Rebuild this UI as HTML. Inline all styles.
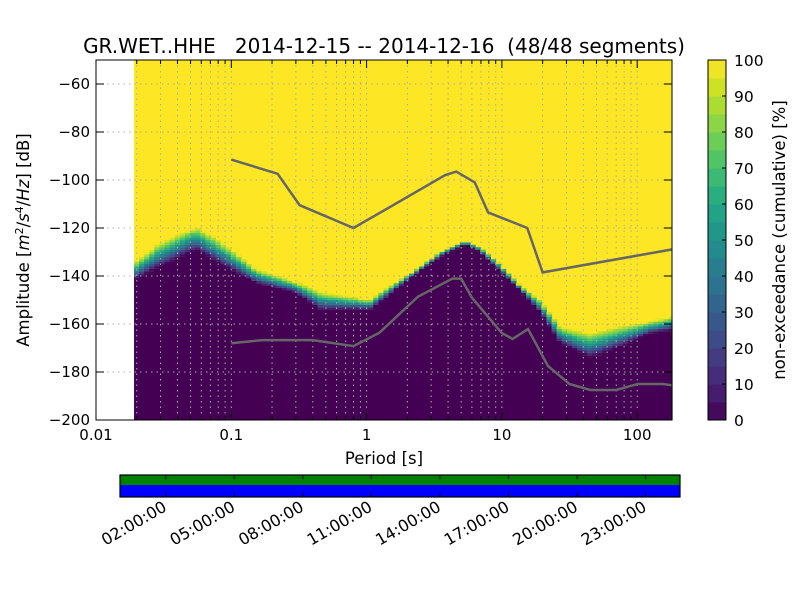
<!DOCTYPE html>
<html><head><meta charset="utf-8"><style>
body{margin:0;background:#fff;width:800px;height:600px;overflow:hidden}
svg text{font-family:"DejaVu Sans","Liberation Sans",sans-serif;fill:#000;white-space:pre}
</style></head><body>
<svg id="chart" width="800" height="600" viewBox="0 0 800 600" xmlns="http://www.w3.org/2000/svg">
<text x="384" y="53" font-size="20" text-anchor="middle" xml:space="preserve">GR.WET..HHE   2014-12-15 -- 2014-12-16  (48/48 segments)</text>
<g id="heat"></g>
<g id="grid"></g>
<g id="lines"></g>
<rect x="96" y="60" width="576" height="360" fill="none" stroke="#000" stroke-width="1"/>
<g id="axes"></g>
<text x="384" y="464" font-size="16.5" text-anchor="middle">Period [s]</text>
<text transform="translate(29,240) rotate(-90)" font-size="16.5" text-anchor="middle">Amplitude [<tspan font-style="italic">m</tspan><tspan font-size="11" dy="-6">2</tspan><tspan dy="6">/</tspan><tspan font-style="italic">s</tspan><tspan font-size="11" dy="-6">4</tspan><tspan dy="6">/</tspan><tspan font-style="italic">Hz</tspan>] [dB]</text>
<g id="cbar"></g>
<text transform="translate(785,240) rotate(-90)" font-size="16.5" text-anchor="middle">non-exceedance (cumulative) [%]</text>
<g id="cov"></g>
</svg>
<script>
const periods=[0.0191,0.0297,0.0548,0.0771,0.152,0.301,0.453,1.06,1.32,2.09,3.49,5.34,6.89,9.69,13.6,19.1,26.9,44.8,74.6,124,180];
const loDb=[-141.7,-136,-129,-134,-143,-147,-154,-154,-150,-141,-132,-127,-130,-138,-146,-155,-168,-174,-169.5,-164,-162.5];
const hiDb=[-134.6,-126,-119.5,-124,-137,-142.5,-146.5,-150,-146,-139,-130,-125,-128,-135,-144,-150,-161,-164,-161,-159,-157];
const nhnmP=[0.1,0.22,0.32,0.8,3.8,4.6,6.3,7.9,15.4,20,354.8];
const nhnmDb=[-91.5,-97.4,-110.5,-120,-98,-96.5,-101,-113.5,-120,-138.5,-126];
const nlnmP=[0.1,0.17,0.4,0.8,1.24,2.4,4.3,5,6,10,12,15.6,21.9,31.6,45,70,101,154,328];
const nlnmDb=[-168,-166.7,-166.7,-169.2,-163.7,-148.6,-141.1,-141.1,-149,-163.8,-166.2,-162.1,-177.5,-185,-187.5,-187.5,-185,-185,-187.5];
const yTicks=[-60,-80,-100,-120,-140,-160,-180,-200];
const xTicks=[0.01,0.1,1,10,100];
const xTickLabels=['0.01','0.1','1','10','100'];
const cbTicks=[0,10,20,30,40,50,60,70,80,90,100];
const timeLabels=['02:00:00','05:00:00','08:00:00','11:00:00','14:00:00','17:00:00','20:00:00','23:00:00'];
const timeHours=[2,5,8,11,14,17,20,23];

const NS='http://www.w3.org/2000/svg';
const X=p=>96+(Math.log10(p)+2)*135.3;
const Y=d=>60+(-50-d)*2.4;
function mk(t,a,parent){const e=document.createElementNS(NS,t);for(const k in a)e.setAttribute(k,a[k]);parent.appendChild(e);return e;}
const vir=[[68,1,84],[72,36,117],[65,68,135],[53,95,141],[42,120,142],[33,145,140],[34,168,132],[68,191,112],[122,209,81],[189,223,38],[253,231,37]];
function viridis(t){t=Math.max(0,Math.min(1,t));const f=t*10,i=Math.min(9,Math.floor(f)),r=f-i;const a=vir[i],b=vir[i+1];return 'rgb('+a.map((v,k)=>Math.round(v+(b[k]-v)*r)).join(',')+')';}
function band(frac){const b=Math.min(19,Math.floor(frac*20));return viridis((b+0.5)/20);}

const heat=document.getElementById('heat');
const xl=X(periods[0]),xr=672;
let r=mk('rect',{x:xl,y:60,width:xr-xl,height:360,fill:viridis(1)},heat);


function interp(arrP,arrV,p){const lp=Math.log10(p);for(let i=0;i<arrP.length-1;i++){const a=Math.log10(arrP[i]),b=Math.log10(arrP[i+1]);if(lp<=b){const t=(lp-a)/(b-a);return arrV[i]+(arrV[i+1]-arrV[i])*Math.max(0,t);}}return arrV[arrV.length-1];}
const step=Math.log10(2)/8;
for(let lp=Math.log10(periods[0]);X(Math.pow(10,lp))<xr;lp+=step){
  const p=Math.pow(10,lp+step/2);
  const x0=X(Math.pow(10,lp)),x1=Math.min(xr,X(Math.pow(10,lp+step)));
  const lo=interp(periods,loDb,p),hi=interp(periods,hiDb,p);
  const col=mk('g',{},heat);
  
  
  const loQ=Math.round(lo);
  mk('rect',{x:x0,y:Y(loQ),width:x1-x0+0.6,height:Y(-200)-Y(loQ),fill:viridis(0)},col);
  for(let d=loQ;d<Math.round(hi);d++){
    const frac=(d+0.5-lo)/(hi-lo);
    mk('rect',{x:x0,y:Y(d+1),width:x1-x0+0.6,height:2.5,fill:band(frac)},col);
  }
}
const grid=document.getElementById('grid');
for(let e=-2;e<=2;e++)for(let m=1;m<10;m++){const p=m*Math.pow(10,e);const x=X(p);if(x<=96.5||x>=671.5)continue;
  const l=mk('line',{x1:x,x2:x,y1:60,y2:420,stroke:'#aaa','stroke-width':1,'stroke-dasharray':'1.5,4'},grid);
  
  }
yTicks.forEach(v=>{const y=Y(v);if(y>=419)return;const l=mk('line',{x1:96,x2:672,y1:y,y2:y,stroke:'#aaa','stroke-width':1,'stroke-dasharray':'1.5,4'},grid);
  
  });
const lines=document.getElementById('lines');
mk('clipPath',{id:'clip'},lines).appendChild(document.createElementNS(NS,'rect'));
const cr=lines.querySelector('clipPath rect');cr.setAttribute('x',96);cr.setAttribute('y',60);cr.setAttribute('width',576);cr.setAttribute('height',360);
function poly(P,D,name){const l=mk('polyline',{points:P.map((p,i)=>X(p)+','+Y(D[i])).join(' '),fill:'none',stroke:'#666','stroke-width':2.5,'clip-path':'url(#clip)'},lines);
  
  }
poly(nhnmP,nhnmDb,'nhnm-line');
poly(nlnmP,nlnmDb,'nlnm-line');
const axes=document.getElementById('axes');
yTicks.forEach(v=>{const y=Y(v);mk('line',{x1:96,x2:104,y1:y,y2:y,stroke:'#000'},axes);mk('line',{x1:664,x2:672,y1:y,y2:y,stroke:'#000'},axes);
  const t=mk('text',{x:90,y:y+5,'font-size':15,'text-anchor':'end'},axes);t.textContent=(v<0?'\u2212':'')+Math.abs(v);
  
  });
xTicks.forEach((p,i)=>{const x=X(p);mk('line',{x1:x,x2:x,y1:420,y2:412,stroke:'#000'},axes);mk('line',{x1:x,x2:x,y1:60,y2:68,stroke:'#000'},axes);
  const t=mk('text',{x:x,y:440,'font-size':15,'text-anchor':'middle'},axes);t.textContent=xTickLabels[i];
  
  });
for(let e=-2;e<=2;e++)for(let m=2;m<10;m++){const x=X(m*Math.pow(10,e));if(x>=672)continue;mk('line',{x1:x,x2:x,y1:420,y2:416,stroke:'#000'},axes);mk('line',{x1:x,x2:x,y1:60,y2:64,stroke:'#000'},axes);}
const cb=document.getElementById('cbar');
for(let b=0;b<20;b++){const y0=420-(b+1)*18;mk('rect',{x:708,y:y0,width:18,height:18.5,fill:viridis((b+0.5)/20)},cb);}
mk('rect',{x:708,y:60,width:18,height:360,fill:'none',stroke:'#000'},cb);
cbTicks.forEach(v=>{const y=420-v*3.6;mk('line',{x1:722,x2:726,y1:y,y2:y,stroke:'#000'},cb);
  const t=mk('text',{x:734,y:y+6,'font-size':15.5},cb);t.textContent=v;
  
  });
const cov=document.getElementById('cov');
mk('rect',{x:120,y:475,width:560,height:10,fill:'#008000'},cov);
mk('rect',{x:120,y:485,width:560,height:12,fill:'#0000ff'},cov);
mk('rect',{x:120,y:475,width:560,height:22,fill:'none',stroke:'#000','stroke-width':1.2},cov);
timeHours.forEach((h,i)=>{const x=120+h*22.85;mk('line',{x1:x,x2:x,y1:475,y2:479,stroke:'#000'},cov);mk('line',{x1:x,x2:x,y1:493,y2:497,stroke:'#000'},cov);
  const t=mk('text',{transform:'translate('+(x+2)+',510) rotate(-30)','font-size':16,'text-anchor':'end'},cov);t.textContent=timeLabels[i];
  
  });
</script>
</body></html>
